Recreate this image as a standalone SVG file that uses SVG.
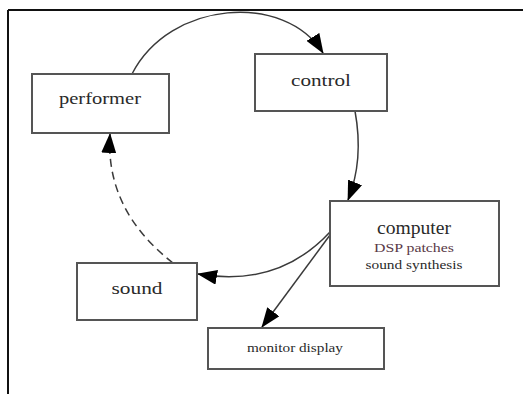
<svg xmlns="http://www.w3.org/2000/svg" width="523" height="394" viewBox="0 0 523 394">
  <style>
    .box { fill: #ffffff; stroke: #555555; stroke-width: 2; }
    .lbl { fill: #2a2a2a; text-anchor: middle; font-family: "Liberation Serif", "Times New Roman", "DejaVu Serif", serif; }
    .edge { fill: none; stroke: #3a3a3a; stroke-width: 1.5; }
    .dash { stroke-dasharray: 8 5; }
  </style>
  <defs>
    <marker id="ah" markerUnits="userSpaceOnUse" markerWidth="20" markerHeight="15" refX="19" refY="7.5" orient="auto">
      <path d="M0,0 L20,7.5 L0,15 z" fill="#000000"/>
    </marker>
  </defs>
  <rect x="0" y="0" width="523" height="394" fill="#ffffff"/>
  <g id="frame">
    <line x1="8" y1="10" x2="523" y2="10" stroke="#111" stroke-width="2"/>
    <line x1="8" y1="10" x2="8" y2="394" stroke="#111" stroke-width="2"/>
  </g>
  <g id="connectors">
    <path class="edge" d="M132,74 C170,0 285,-8 323,53" marker-end="url(#ah)"/>
    <path class="edge" d="M355,111 Q364,160 348,200" marker-end="url(#ah)"/>
    <path class="edge" d="M330,232 Q278,288 198,274" marker-end="url(#ah)"/>
    <path class="edge" d="M330,235 L262,327" marker-end="url(#ah)"/>
    <path class="edge dash" d="M173,263 Q105,210 110,134" marker-end="url(#ah)"/>
  </g>
  <g id="performer">
    <rect class="box" x="32" y="74" width="137" height="59"/>
    <text class="lbl" x="100" y="104" font-size="17" textLength="82" lengthAdjust="spacingAndGlyphs">performer</text>
  </g>
  <g id="control">
    <rect class="box" x="255" y="54" width="132" height="57"/>
    <text class="lbl" x="321" y="86" font-size="17" textLength="60" lengthAdjust="spacingAndGlyphs">control</text>
  </g>
  <g id="computer">
    <rect class="box" x="330" y="201" width="169" height="85"/>
    <text class="lbl" x="414" y="234" font-size="18" textLength="74" lengthAdjust="spacingAndGlyphs">computer</text>
    <text class="lbl" x="414" y="252" font-size="12.5" textLength="80" lengthAdjust="spacingAndGlyphs" style="fill:#5a3a48">DSP patches</text>
    <text class="lbl" x="414" y="269" font-size="12.5" textLength="97" lengthAdjust="spacingAndGlyphs">sound synthesis</text>
  </g>
  <g id="sound">
    <rect class="box" x="77" y="263" width="120" height="57"/>
    <text class="lbl" x="137" y="294" font-size="17" textLength="51" lengthAdjust="spacingAndGlyphs">sound</text>
  </g>
  <g id="monitor">
    <rect class="box" x="208" y="328" width="176" height="41"/>
    <text class="lbl" x="295" y="352" font-size="12.5" textLength="96" lengthAdjust="spacingAndGlyphs">monitor display</text>
  </g>
</svg>
